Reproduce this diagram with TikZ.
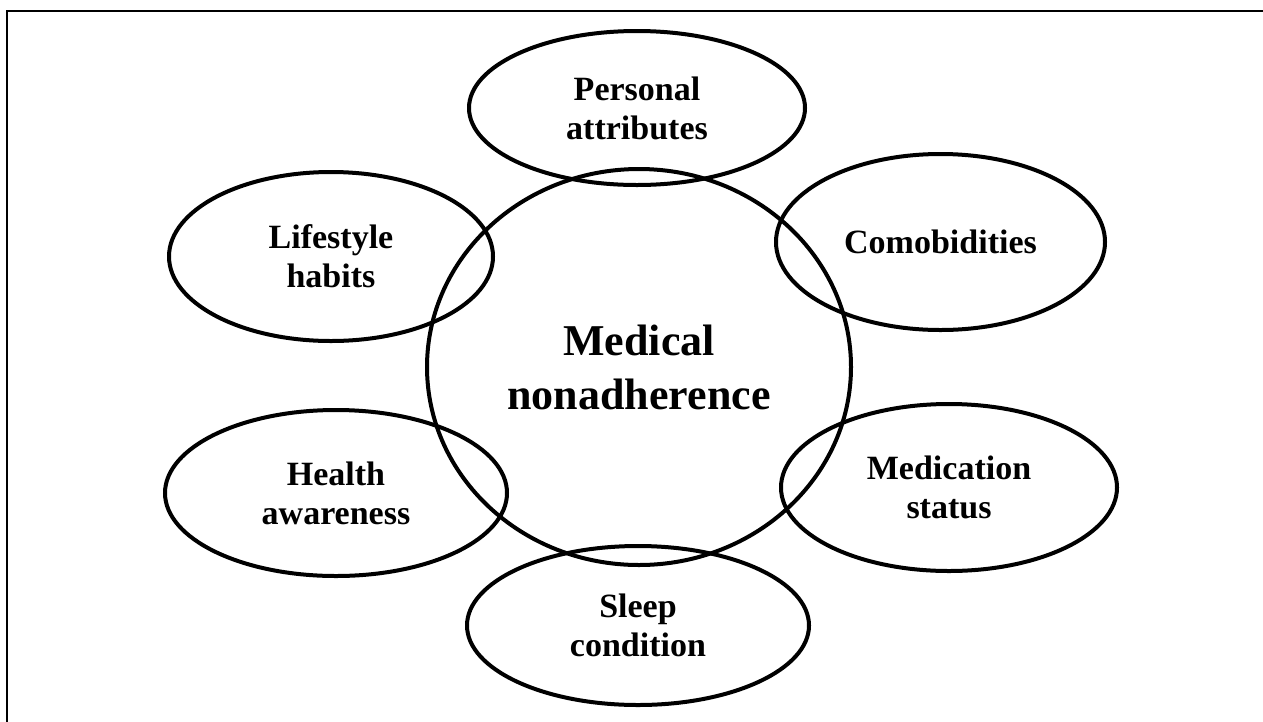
\documentclass[tikz,border=0pt]{standalone}
\usepackage{fontspec}
\setmainfont{Liberation Serif}
\usetikzlibrary{shapes.geometric}

\tikzset{
  factor/.style={ellipse, draw, line width=4pt, inner sep=0pt, align=center,
                 font=\fontsize{34}{39}\selectfont\bfseries},
  core/.style={factor, font=\fontsize{44}{54}\selectfont\bfseries}
}

\begin{document}
\begin{tikzpicture}[x=1pt,y=-1pt]
  \useasboundingbox (0,0) rectangle (1263,721);
  \clip (0,0) rectangle (1263,721);
  \draw[line width=2pt] (7,760) -- (7,11) -- (1300,11);
  % centre and the six factors around it
  \node[core, minimum width=424pt, minimum height=396pt] (nonadh) at (639,367) {Medical\\nonadherence};
  \node[factor, minimum width=336pt, minimum height=154pt] (personal) at (637,108) {Personal\\attributes};
  \node[factor, minimum width=329pt, minimum height=176pt] (comorb) at (940.5,242) {Comobidities};
  \node[factor, minimum width=336pt, minimum height=167pt] (medic) at (949,487.5) {Medication\\status};
  \node[factor, minimum width=342pt, minimum height=159pt] (sleep) at (638,625.5) {Sleep\\condition};
  \node[factor, minimum width=342pt, minimum height=166pt] (health) at (336,493) {Health\\awareness};
  \node[factor, minimum width=324pt, minimum height=169pt] (lifestyle) at (331,256.5) {Lifestyle\\habits};
\end{tikzpicture}
\end{document}
